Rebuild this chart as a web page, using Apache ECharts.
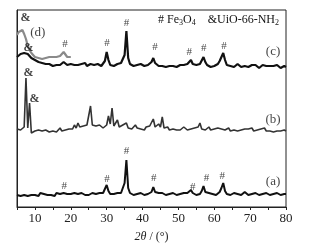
<!DOCTYPE html>
<html><head><meta charset="utf-8">
<script src="https://cdn.jsdelivr.net/npm/echarts@6/dist/echarts.min.js"></script>
<style>html,body{margin:0;padding:0;background:#fff}#c{width:319px;height:250px}</style>
</head><body><div id="c"></div>
<script>
// 2θ grid, 5..80 step 0.5
const angles = [];
for (let i = 0; i <= 150; i++) angles.push(5 + i * 0.5);

// intensity (arbitrary units, offset stacked)
const seriesA = [
12,14,11,13,12,14,11,13,12,14,
12,13,11,14,12,13,11,12,14,12,
13,11,14,12,13,12,14,16,13,12,
13,12,14,12,13,11,14,13,12,14,
12,13,14,12,13,12,14,13,14,16,
22,16,13,14,13,12,14,13,14,16,
24,47,19,14,13,12,14,13,12,14,
13,12,14,13,14,15,20,15,13,14,
12,14,13,12,14,13,12,14,13,12,
14,13,12,14,13,14,15,17,14,13,
12,14,13,16,21,15,13,14,12,13,
14,12,13,15,19,24,16,13,14,12,
13,14,12,13,14,12,13,15,13,12,
14,13,12,14,13,12,14,13,15,14,
13,12,14,13,12,14,13,12,14,13,
13];
const seriesB = [
78,76,77,79,80,129,79,104,74,75,
76,74,77,75,76,74,77,76,75,77,
76,78,75,77,79,76,78,77,79,78,
80,78,82,79,84,80,82,81,83,82,
84,101,82,80,81,79,82,80,79,81,
82,91,83,99,81,79,87,80,79,82,
80,84,79,81,78,80,82,79,80,78,
79,77,80,78,81,79,88,80,78,83,
80,90,79,78,80,77,79,78,80,77,
79,77,78,80,78,77,79,78,77,79,
78,80,84,78,79,77,78,80,77,79,
78,76,79,77,78,80,77,78,79,76,
78,77,79,76,78,77,79,78,76,78,
77,79,76,78,77,76,78,77,79,76,
77,76,78,75,77,76,78,76,75,77,
76];
const seriesC = [
150,152,153,155,154,156,153,151,149,148,
147,146,145,143,144,142,143,141,143,142,
141,143,142,144,142,143,145,143,142,141,
143,141,142,144,142,141,143,142,144,141,
142,143,141,142,144,143,142,141,143,146,
155,147,142,143,141,142,143,142,144,146,
152,176,149,143,142,141,143,142,141,143,
142,141,143,142,144,145,149,144,142,141,
143,141,142,140,142,141,143,141,142,140,
141,142,140,142,141,143,144,147,143,141,
142,140,143,145,150,145,142,141,140,142,
141,142,143,146,150,154,147,142,140,141,
142,140,141,143,141,140,142,141,143,140,
141,142,140,142,141,139,141,142,140,141,
140,141,139,141,140,142,141,139,140,141,
140];
// (d) only measured 5..20
const seriesD = [
172,175,176,177,173,168,161,157,154,152,
150,151,149,150,148,150,149,148,150,149,
150,148,150,149,151,150,155,153,150,149,
150];

// annotation labels [2θ, intensity, text]
const marksHash = [
[18.2,21],[30.1,28],[35.5,56],[43.1,29],[54.0,20],[57.8,29],[62.2,31],
[18.4,163],[30.1,164],[35.5,184],[43.5,160],[53.0,155],[57.1,159],[62.7,161]
];
const marksAmp = [[8.2,134],[9.9,108],[8.2,159],[7.4,189]];
const curveLabels = [[76.4,25,'(a)'],[76.4,87,'(b)'],[76.4,155,'(c)'],[10.8,174,'(d)']];
const xTickLabels = ['10','20','30','40','50','60','70','80'];

const pair = (ys) => ys.map((y, i) => [angles[i], y]);
const serif = '"Liberation Serif","DejaVu Serif",serif';

const annot = (data, fmt, size, weight) => ({
  type: 'scatter', symbolSize: 0.1, silent: true, z: 5,
  itemStyle: { color: 'transparent' },
  data: data.map(d => ({ value: [d[0], d[1]], name: d[2] || fmt })),
  label: { show: true, position: 'inside', formatter: p => p.name,
    fontFamily: serif, fontSize: size, fontWeight: weight, color: '#111' }
});

const chart = echarts.init(document.getElementById('c'), null, { renderer: 'canvas' });
chart.setOption({
  animation: false,
  grid: { left: 17, right: 33, top: 10, bottom: 43, show: true, borderColor: '#222', borderWidth: 1 },
  xAxis: {
    type: 'value', min: 5, max: 80, interval: 5,
    axisLine: { lineStyle: { color: '#222', width: 1 } },
    axisTick: { show: true, inside: false, length: 3, lineStyle: { color: '#222' } },
    axisLabel: { fontFamily: serif, fontSize: 13, color: '#222', margin: 5,
      formatter: v => (v % 10 === 0 && xTickLabels.includes(String(v))) ? String(v) : '' },
    splitLine: { show: false },
    name: '{i|2θ} / (°)', nameLocation: 'middle', nameGap: 24,
    nameTextStyle: { fontFamily: serif, fontSize: 12, color: '#222',
      rich: { i: { fontStyle: 'italic', fontFamily: serif, fontSize: 12 } } }
  },
  yAxis: {
    type: 'value', min: 0, max: 197,
    axisLine: { show: true, lineStyle: { color: '#222' } },
    axisTick: { show: false }, axisLabel: { show: false }, splitLine: { show: false }
  },
  graphic: [{
    type: 'text', left: 158, top: 14,
    style: {
      text: '# Fe{s|3}O{s|4}    &UiO-66-NH{s|2}',
      font: '12px ' + serif, fill: '#111',
      rich: { s: { fontSize: 8, verticalAlign: 'bottom', padding: [6, 0, 0, 0], fontFamily: serif } }
    }
  }],
  series: [
    { type: 'line', data: pair(seriesA), showSymbol: false, lineStyle: { color: '#111', width: 2 } },
    { type: 'line', data: pair(seriesB), showSymbol: false, lineStyle: { color: '#333', width: 1.6 } },
    { type: 'line', data: pair(seriesC), showSymbol: false, lineStyle: { color: '#111', width: 2.2 } },
    { type: 'line', data: pair(seriesD), showSymbol: false, lineStyle: { color: '#8a8a8a', width: 2.2 } },
    annot(marksHash, '#', 11, 'normal'),
    annot(marksAmp, '&', 12, 'bold'),
    annot(curveLabels, '', 13, 'normal')
  ]
});
</script></body></html>
